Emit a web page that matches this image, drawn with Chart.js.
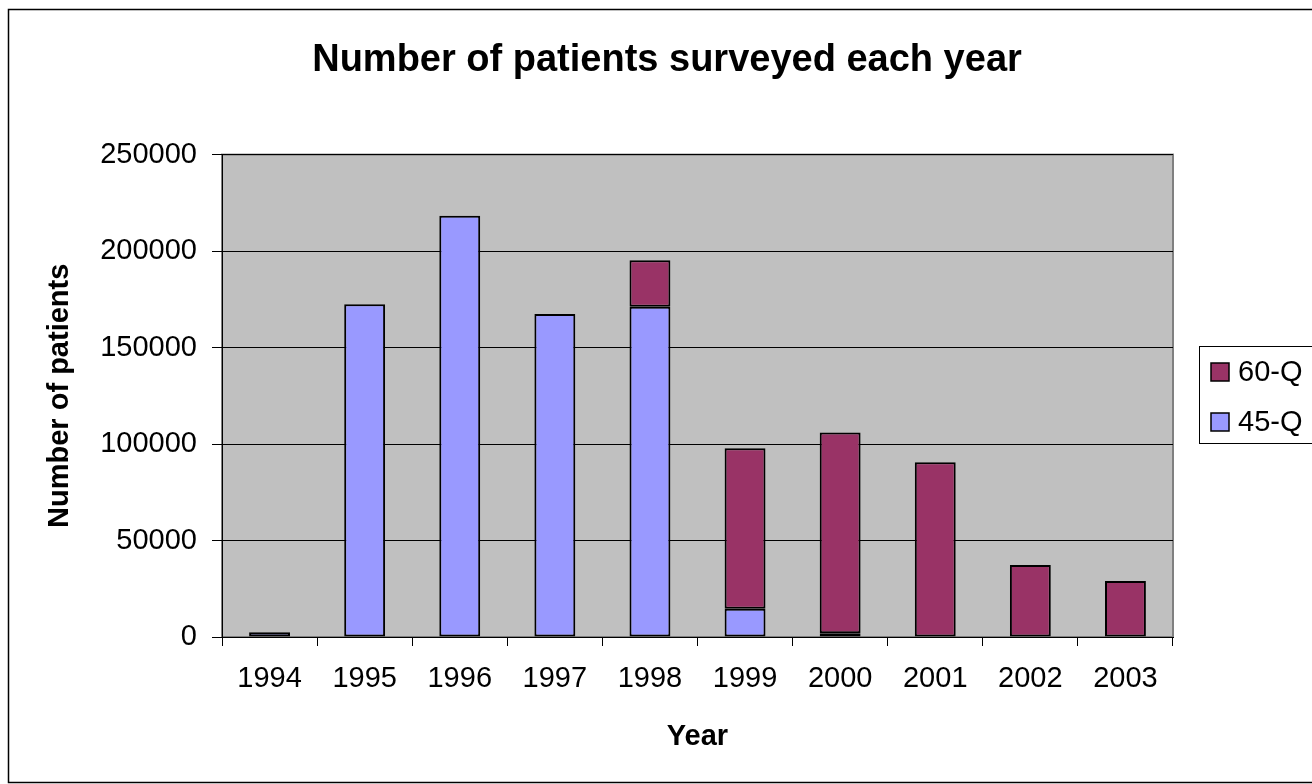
<!DOCTYPE html>
<html>
<head>
<meta charset="utf-8">
<title>Number of patients surveyed each year</title>
<script src="https://cdn.jsdelivr.net/npm/chart.js@4.4.1/dist/chart.umd.min.js"></script>
<style>
    html, body { margin: 0; padding: 0; background: #fff; }
    canvas { display: block; }
</style>
</head>
<body>
<canvas id="patientsChart" width="1312" height="784"></canvas>
<script>
// ===== DATA =====
const years = ['1994', '1995', '1996', '1997', '1998', '1999', '2000', '2001', '2002', '2003'];
const q45Values = [2400, 172400, 218300, 167400, 171100, 14700, 1900, null, null, null];
const q60Values = [null, null, null, null, 24200, 83100, 104100, 90500, 37300, 29000];
const yTicks = [0, 50000, 100000, 150000, 200000, 250000];

const FONT = '"Liberation Sans", Arial, sans-serif';

// plot background, outer frame and the boxed legend on the right
const excelFrame = {
    id: 'excelFrame',
    beforeDraw(chart) {
        const { ctx, chartArea: a } = chart;
        ctx.save();
        ctx.fillStyle = '#fff';
        ctx.fillRect(0, 0, chart.width, chart.height);
        ctx.strokeStyle = '#000';
        ctx.lineWidth = 1.5;
        ctx.strokeRect(8.5, 9.5, chart.width + 20, 773);
        ctx.fillStyle = '#c0c0c0';
        ctx.fillRect(a.left, a.top, a.right - a.left, a.bottom - a.top);
        ctx.strokeStyle = '#808080';
        ctx.lineWidth = 2;
        ctx.strokeRect(a.left, a.top, a.right - a.left, a.bottom - a.top);
        ctx.restore();
    },
    afterDraw(chart) {
        const { ctx, chartArea: a } = chart;
        const boxX = a.right + 26;
        const boxY = 346;
        ctx.save();
        ctx.strokeStyle = '#000';
        ctx.lineWidth = 1;
        ctx.strokeRect(boxX + 0.5, boxY + 0.5, 200, 97);
        ctx.font = '29px ' + FONT;
        ctx.textBaseline = 'middle';
        const items = chart.data.datasets.slice().reverse();
        items.forEach((ds, i) => {
            const cy = boxY + 26 + i * 50;
            ctx.fillStyle = ds.backgroundColor;
            ctx.fillRect(boxX + 12, cy - 9, 18, 18);
            ctx.lineWidth = 1.5;
            ctx.strokeRect(boxX + 12, cy - 9, 18, 18);
            ctx.fillStyle = '#000';
            ctx.fillText(ds.label, boxX + 39, cy + 1);
        });
        ctx.restore();
    }
};

const ctx = document.getElementById('patientsChart');
new Chart(ctx, {
    type: 'bar',
    data: {
        labels: years,
        datasets: [{
            label: '45-Q',
            data: q45Values,
            backgroundColor: '#9999ff',
            borderColor: '#000',
            borderWidth: 2,
            borderSkipped: false
        }, {
            label: '60-Q',
            data: q60Values,
            backgroundColor: '#993366',
            borderColor: '#000',
            borderWidth: 2,
            borderSkipped: false
        }]
    },
    options: {
        responsive: false,
        devicePixelRatio: 1,
        animation: false,
        barPercentage: 0.43,
        categoryPercentage: 1,
        layout: {
            padding: { top: 10, left: 30, right: 8, bottom: 10 }
        },
        plugins: {
            legend: { display: false },
            tooltip: { enabled: false },
            title: {
                display: true,
                text: 'Number of patients surveyed each year',
                color: '#000',
                font: { family: FONT, size: 38, weight: 'bold' },
                padding: { top: 28, bottom: 71 }
            }
        },
        scales: {
            x: {
                stacked: true,
                grid: {
                    offset: true,
                    drawOnChartArea: false,
                    tickLength: 9,
                    color: '#000'
                },
                border: { color: '#000', width: 1 },
                ticks: {
                    color: '#000',
                    padding: 16,
                    maxRotation: 0,
                    font: { family: FONT, size: 29 }
                },
                title: {
                    display: true,
                    text: 'Year',
                    color: '#000',
                    font: { family: FONT, size: 29, weight: 'bold' },
                    padding: { top: 0, bottom: 20 }
                },
                afterFit(scale) {
                    scale.height = 784 - 10 - 637;
                }
            },
            y: {
                stacked: true,
                min: yTicks[0],
                max: yTicks[yTicks.length - 1],
                grid: {
                    color: '#000',
                    lineWidth: 1,
                    tickLength: 10
                },
                border: { color: '#000', width: 1 },
                ticks: {
                    stepSize: yTicks[1] - yTicks[0],
                    color: '#000',
                    padding: 15,
                    font: { family: FONT, size: 29 },
                    callback: (v) => String(v)
                },
                title: {
                    display: true,
                    text: 'Number of patients',
                    color: '#000',
                    font: { family: FONT, size: 29, weight: 'bold' },
                    padding: { top: 13, bottom: 0 }
                },
                afterFit(scale) {
                    scale.width = 222 - 30;
                }
            },
            // empty right-hand axis that only reserves room for the legend box
            legendSpace: {
                position: 'right',
                display: true,
                grid: { display: false, drawTicks: false },
                border: { display: false },
                ticks: { display: false },
                afterFit(scale) {
                    scale.width = 1312 - 8 - 1173;
                }
            }
        }
    },
    plugins: [excelFrame]
});
</script>
</body>
</html>
